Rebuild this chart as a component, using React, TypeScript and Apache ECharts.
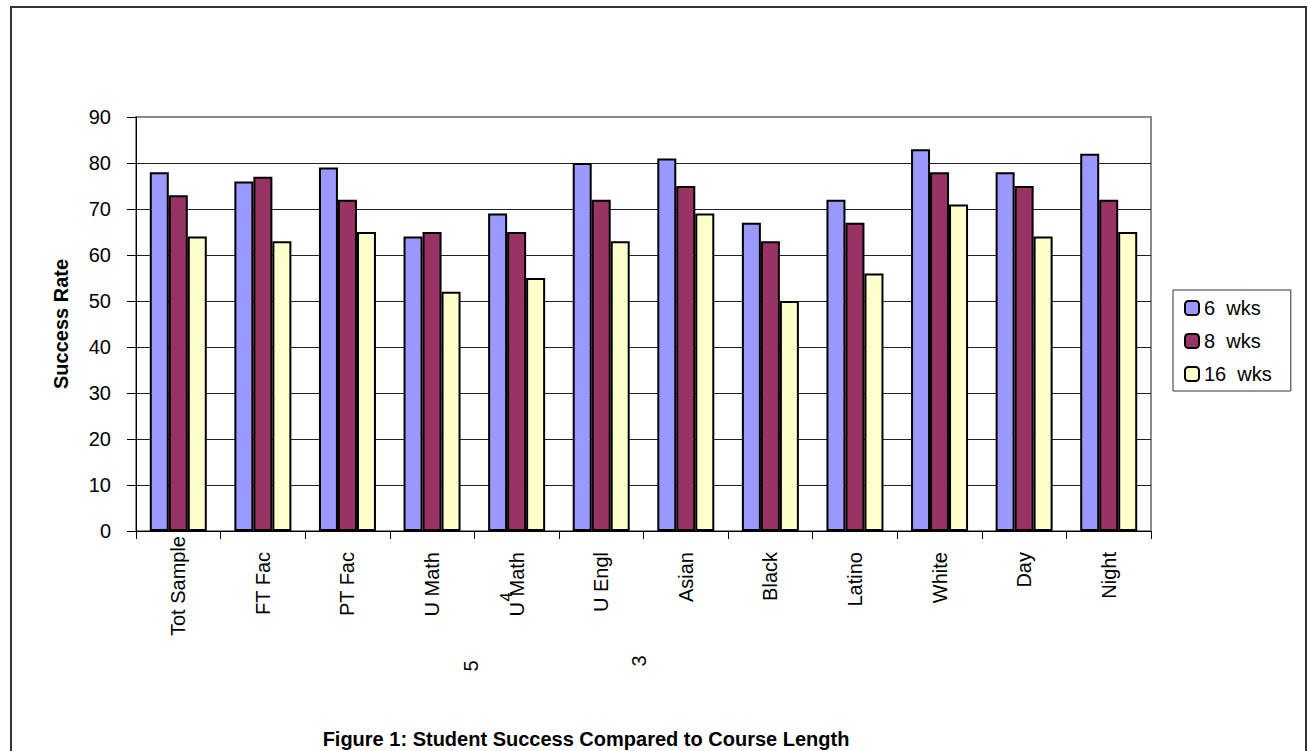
import React, { useEffect, useRef } from "react";
import * as echarts from "echarts";

// Course-length comparison: success rates by student group
const categories = [
  "Tot Sample",
  "FT Fac",
  "PT Fac",
  "U Math",
  "U Math",
  "U Engl",
  "Asian",
  "Black",
  "Latino",
  "White",
  "Day",
  "Night",
];
const seriesNames = ["6  wks", "8  wks", "16  wks"];
const sixWeeks = [78, 76, 79, 64, 69, 80, 81, 67, 72, 83, 78, 82];
const eightWeeks = [73, 77, 72, 65, 65, 72, 75, 63, 67, 78, 75, 72];
const sixteenWeeks = [64, 63, 65, 52, 55, 63, 69, 50, 56, 71, 64, 65];
const yTicks = [0, 10, 20, 30, 40, 50, 60, 70, 80, 90];

const FONT = 'Arial, "Liberation Sans", sans-serif';
const COLORS = ["#9999FF", "#993366", "#FFFFCC"];

export default function App() {
  const ref = useRef<HTMLDivElement>(null);

  useEffect(() => {
    if (!ref.current) return;
    const chart = echarts.init(ref.current, undefined, { renderer: "svg" });

    const seriesValues = [sixWeeks, eightWeeks, sixteenWeeks];
    const catData = categories.map((c, i) =>
      i === 0 ? c : { value: c, textStyle: { padding: [0, 16, 0, 0] } }
    );

    chart.setOption({
      animation: false,
      backgroundColor: "#ffffff",
      grid: {
        left: 136,
        right: 157,
        top: 117,
        bottom: 220,
        show: true,
        borderColor: "#8a8a8a",
        borderWidth: 2,
        backgroundColor: "transparent",
      },
      legend: {
        orient: "vertical",
        left: 1173,
        top: 290,
        itemWidth: 14,
        itemHeight: 14,
        itemGap: 13,
        padding: [8, 19, 7, 11],
        borderColor: "#333",
        borderWidth: 1,
        textStyle: { fontFamily: FONT, fontSize: 20, color: "#000" },
        data: seriesNames,
      },
      xAxis: {
        type: "category",
        data: catData,
        axisLine: { show: true, lineStyle: { color: "#000", width: 1 } },
        axisTick: { show: true, length: 8, lineStyle: { color: "#000" } },
        axisLabel: {
          rotate: 90,
          margin: 5,
          interval: 0,
          fontFamily: FONT,
          fontSize: 20,
          color: "#000",
        },
        splitLine: { show: false },
      },
      yAxis: {
        type: "value",
        min: yTicks[0],
        max: yTicks[yTicks.length - 1],
        interval: 10,
        name: "Success Rate",
        nameLocation: "middle",
        nameGap: 65,
        nameTextStyle: {
          fontFamily: FONT,
          fontSize: 20,
          fontWeight: "bold",
          color: "#000",
        },
        axisLine: { show: true, lineStyle: { color: "#000", width: 1 } },
        axisTick: { show: true, inside: false, length: 9, lineStyle: { color: "#000" } },
        axisLabel: {
          margin: 25,
          fontFamily: FONT,
          fontSize: 20,
          color: "#000",
        },
        splitLine: {
          show: true,
          showMinLine: false,
          showMaxLine: false,
          lineStyle: { color: "#222", width: 1 },
        },
      },
      series: seriesNames.map((name, i) => ({
        name,
        type: "bar",
        data: seriesValues[i],
        barWidth: 19,
        barGap: "0%",
        itemStyle: {
          color: COLORS[i],
          borderColor: "#000",
          borderWidth: 2,
        },
      })),
      graphic: [
        {
          type: "rect",
          silent: true,
          shape: { x: 11, y: 7, width: 1295, height: 800 },
          style: { fill: "none", stroke: "#333", lineWidth: 2 },
          z: 100,
        },
        {
          type: "text",
          x: 586,
          y: 739,
          style: {
            text: "Figure 1: Student Success Compared to Course Length",
            fontFamily: FONT,
            fontSize: 20,
            fontWeight: "bold",
            fill: "#000",
            align: "center",
            verticalAlign: "middle",
          },
        },
        {
          type: "text",
          x: 471,
          y: 666,
          rotation: Math.PI / 2,
          style: {
            text: "5",
            fontFamily: FONT,
            fontSize: 20,
            fill: "#000",
            align: "center",
            verticalAlign: "middle",
          },
        },
        {
          type: "text",
          x: 639,
          y: 661,
          rotation: Math.PI / 2,
          style: {
            text: "3",
            fontFamily: FONT,
            fontSize: 20,
            fill: "#000",
            align: "center",
            verticalAlign: "middle",
          },
        },
        {
          type: "text",
          x: 506,
          y: 597,
          rotation: Math.PI / 2,
          style: {
            text: "4",
            fontFamily: FONT,
            fontSize: 16,
            fill: "#000",
            align: "center",
            verticalAlign: "middle",
          },
        },
      ],
    });

    return () => chart.dispose();
  }, []);

  return (
    <div
      ref={ref}
      style={{ position: "absolute", left: 0, top: 0, width: 1308, height: 751 }}
    />
  );
}
